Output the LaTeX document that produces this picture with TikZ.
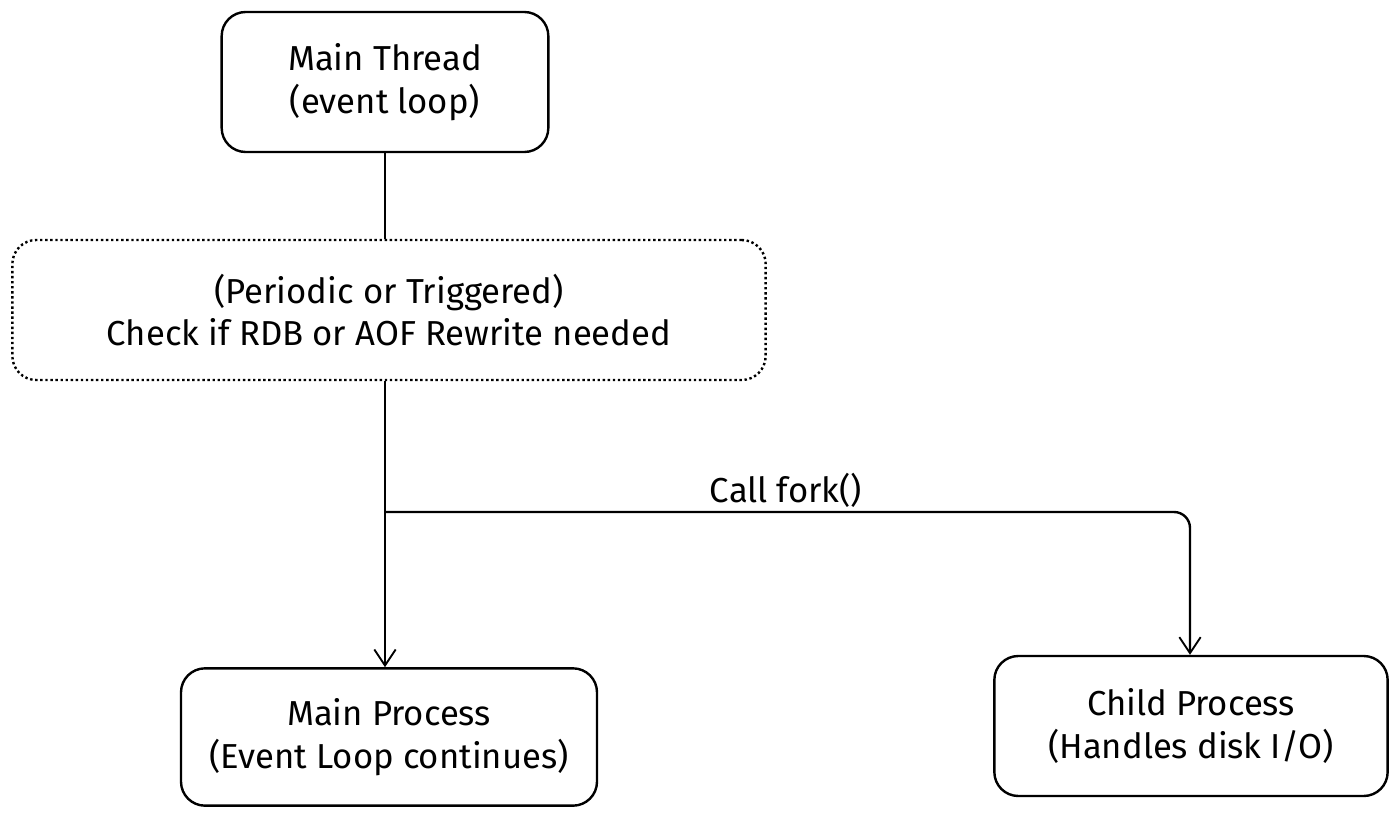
\documentclass[tikz,border=0pt]{standalone}
\usepackage{fontspec}
\setmainfont{Fira Sans}
\usetikzlibrary{arrows.meta}
\begin{document}
\begin{tikzpicture}[x=0.75pt,y=-0.75pt,
  box/.style={draw,line width=1.8pt,rounded corners=18pt,align=center,font=\fontsize{26}{32}\selectfont,inner sep=0pt},
  arr/.style={line width=1.8pt,-{Straight Barb[length=12pt,width=16pt,line width=1.4pt]}},
  ln/.style={line width=1.8pt}]
\useasboundingbox (0,0) rectangle (1400,820);
\node[box,minimum width=245pt,minimum height=105pt] (mt) at (385,82) {Main Thread\\(event loop)};
\node[box,dotted,minimum width=565pt,minimum height=105pt] (chk) at (389,310) {(Periodic or Triggered)\\Check if RDB or AOF Rewrite needed};
\node[box,minimum width=312pt,minimum height=103pt] (mp) at (389,737) {Main Process\\(Event Loop continues)};
\node[box,minimum width=295pt,minimum height=105pt] (cp) at (1191,726) {Child Process\\(Handles disk I/O)};
\draw[ln] (mt.south -| 385,0) -- (chk.north -| 385,0);
\draw[arr] (chk.south -| 385,0) -- (mp.north -| 385,0);
\coordinate (f) at (385,512);
\draw[arr,rounded corners=12pt] (f) -- (1190,512) -- (cp.north -| 1190,0);
\node[font=\fontsize{26}{30}\selectfont] (lbl) at (786,490) {Call fork()};
\end{tikzpicture}
\end{document}
